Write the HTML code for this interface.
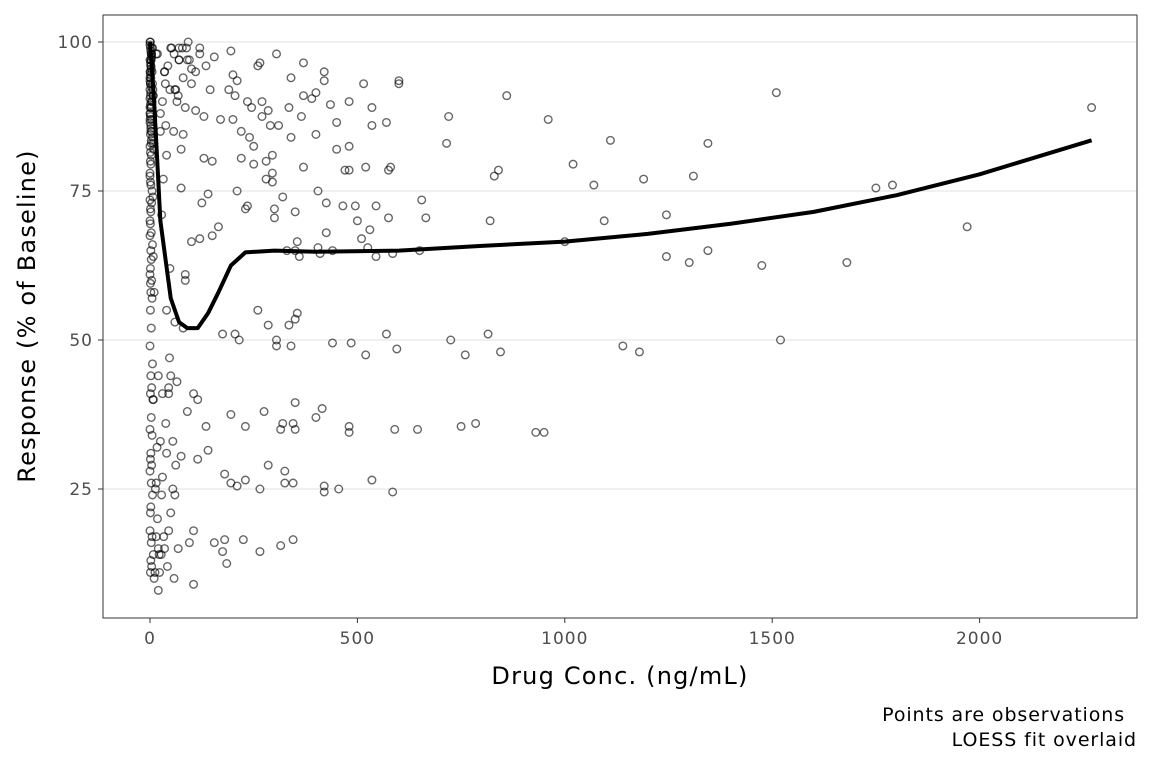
<!DOCTYPE html>
<html><head><meta charset="utf-8">
<style>
body{margin:0;background:#fff;font-family:"Liberation Sans","DejaVu Sans",sans-serif;}
svg text{font-family:"DejaVu Sans","Liberation Sans",sans-serif;}
</style></head>
<body>
<svg width="1152" height="768" xmlns="http://www.w3.org/2000/svg">
<rect x="0" y="0" width="1152" height="768" fill="#fff"/>
<g id="grid"></g>
<g id="pts"></g>
<path id="fit" fill="none" stroke="#000" stroke-width="4" stroke-linejoin="round"/>
<rect x="103" y="15" width="1034" height="603" fill="none" stroke="#333" stroke-width="1"/>
<g id="axes"></g>
<text x="620" y="684" font-size="24" letter-spacing="1.2" text-anchor="middle" fill="#000">Drug Conc. (ng/mL)</text>
<text transform="translate(35,316) rotate(-90)" font-size="24" letter-spacing="1.2" text-anchor="middle" fill="#000">Response (% of Baseline)</text>
<text x="1125" y="721" font-size="19" letter-spacing="0.9" text-anchor="end" fill="#000">Points are observations</text>
<text x="1137" y="746" font-size="19" letter-spacing="0.9" text-anchor="end" fill="#000">LOESS fit overlaid</text>
</svg>
<script>
const xTicks=[0,500,1000,1500,2000];
const yTicks=[25,50,75,100];
const concs=[2270,1970,1790,1750,1680,1520,1510,1475,1345,1345,1310,1300,1245,1245,1190,1180,1140,1110,1095,1070,1020,1000,960,950,930,860,840,845,830,820,815,785,750,760,725,720,715,665,655,650,645,600,600,595,590,585,585,580,575,575,570,570,545,545,535,535,535,530,525,520,520,515,510,500,495,485,480,480,480,480,480,470,465,455,450,450,440,440,435,425,425,420,420,420,420,415,410,405,405,400,400,400,390,370,370,370,365,360,355,355,350,350,350,345,345,345,350,350,340,340,340,335,335,330,325,325,320,320,315,315,310,305,305,305,300,300,295,295,295,290,285,285,285,280,280,275,270,270,265,265,265,260,260,250,250,245,240,235,235,230,230,230,225,220,220,215,210,210,210,205,205,200,200,195,195,195,190,185,180,180,175,175,170,165,155,155,150,150,145,140,140,135,135,130,130,125,120,120,120,115,115,110,105,105,100,100,95,90,85,85,80,80,75,75,
70,68,65,62,60,58,55,52,50,48,45,42,40,38,35,33,30,28,25,22,20,18,15,12,10,70,65,60,55,50,45,40,35,30,25,20,15,10,62,57,47,43,37,32,27,23,17,13,8,90,85,80,75,70,60,50,45,40,35,30,25,20,15,110,100,95,88,78,68,58,48,38,28,18,105,92,
5,4,3,2,1,0,6,7,8,5,3,1,0,2,4,6,8,9,3,1,0,2,5,7,4,1,0,3,6,2,8,1,0,4,2,5,1,3,0,6,2,4,1,7,3,0,5,2,1,4,0,3,6,2,1,0,5,3,8,2,4,1,0,6,3,2,5,1,7,0,4,2,3,1,
0,1,2,3,4,0,1,2,3,0,1,2,0,1,3,0,2,1,0,3,1,2,0,1,0,2,1,3,0,1,2,0,1,0,2,1,0,3,1,0];
const responses=[89,69,76,75.5,63,50,91.5,62.5,83,65,77.5,63,71,64,77,48,49,83.5,70,76,79.5,66.5,87,34.5,34.5,91,78.5,48,77.5,70,51,36,35.5,47.5,50,87.5,83,70.5,73.5,65,35,93.5,93,48.5,35,24.5,64.5,79,78.5,70.5,86.5,51,64,72.5,86,89,26.5,68.5,65.5,79,47.5,93,67,70,72.5,49.5,34.5,35.5,78.5,82.5,90,78.5,72.5,25,86.5,82,49.5,65,89.5,68,73,93.5,95,25.5,24.5,38.5,64.5,65.5,75,84.5,91.5,37,90.5,96.5,91,79,87.5,64,66.5,54.5,53.5,71.5,65,26,16.5,36,39.5,35,49,94,84,89,52.5,65,28,26,36,74,35,15.5,86,98,50,49,70.5,72,81,78,76.5,86,52.5,29,88.5,77,80,38,90,87.5,96.5,25,14.5,96,55,82.5,79.5,89,84,90,72.5,72,35.5,26.5,16.5,85,80.5,50,75,93.5,25.5,51,91,94.5,87,37.5,26,98.5,92,12.5,16.5,27.5,14.5,51,87,69,97.5,16,80,67.5,92,74.5,31.5,96,35.5,87.5,80.5,73,99,98,67,40,30,88.5,9,18,95.5,66.5,16,38,60,89,84.5,52,75.5,30.5,
97,15,43,92,24,10,33,99,21,62,41,12,81,36,95,17,27,71,85,14,44,98,26,11,58,99,90,53,25,44,18,31,95,41,88,15,98,10,29,85,47,96,93,77,14,11,32,25,40,97,61,94,82,97,92,99,42,55,15,90,33,8,17,95,93,97,99,99,91,98,92,86,24,20,41,
100,99,98,97,96,95,94,93,92,91,90,89,88,87,86,85,84,83,82,81,80,78,76,75,74,73,72,70,68,66,65,64,62,61,60,58,57,55,52,49,46,44,42,41,40,37,35,34,31,30,29,28,26,24,22,21,18,17,16,14,13,12,11,100,99,98,97,95,93,91,89,87,85,83,
100,99.5,99,98.5,98,97.5,97,96.5,96,95.5,95,94.5,94,93.5,93,92.5,92,91.5,91,90.5,90,89.5,89,88,87.5,86.5,85.5,84.5,83.5,82.5,81.5,79.5,77.5,76.5,73.5,71.5,69.5,67.5,63.5,59.5];
const fitX=[0,10,25,50,70,90,115,140,165,195,230,300,400,600,800,1000,1200,1400,1600,1800,2000,2270];
const fitY=[100,90,70,57,53,52,52,54.5,58,62.5,64.7,65,64.8,65,65.8,66.5,67.8,69.5,71.5,74.3,77.8,83.5];
const sx=v=>150+v*0.4148, sy=v=>42+(100-v)*5.96;
const NS="http://www.w3.org/2000/svg";
const grid=document.getElementById('grid'),axes=document.getElementById('axes'),pts=document.getElementById('pts');
function mk(tag,attrs,parent){const e=document.createElementNS(NS,tag);for(const k in attrs)e.setAttribute(k,attrs[k]);parent.appendChild(e);return e;}
yTicks.forEach(t=>{
 const g=mk('line',{x1:103,x2:1137,y1:sy(t),y2:sy(t),stroke:'#ebebeb','stroke-width':1.5},grid);
 
 
 const tk=mk('line',{x1:98,x2:103,y1:sy(t),y2:sy(t),stroke:'#333'},axes);
 
 
 const l=mk('text',{x:93,y:sy(t)+6,'font-size':17,'letter-spacing':1,'text-anchor':'end',fill:'#4d4d4d'},axes);l.textContent=t;
 
 
});
xTicks.forEach(t=>{
 const tk=mk('line',{x1:sx(t),x2:sx(t),y1:618,y2:623,stroke:'#333'},axes);
 
 
 const l=mk('text',{x:sx(t),y:644,'font-size':17,'letter-spacing':1,'text-anchor':'middle',fill:'#4d4d4d'},axes);l.textContent=t;
 
 
});
const n=Math.min(concs.length,responses.length);
for(let i=0;i<n;i++){
 const c=mk('circle',{cx:sx(concs[i]),cy:sy(responses[i]),r:3.8,fill:'none',stroke:'rgba(0,0,0,0.6)','stroke-width':1.4},pts);
 
 
}
document.getElementById('fit').setAttribute('d',fitX.map((x,i)=>(i?'L':'M')+sx(x)+','+sy(fitY[i])).join(''));
</script>
</body></html>
